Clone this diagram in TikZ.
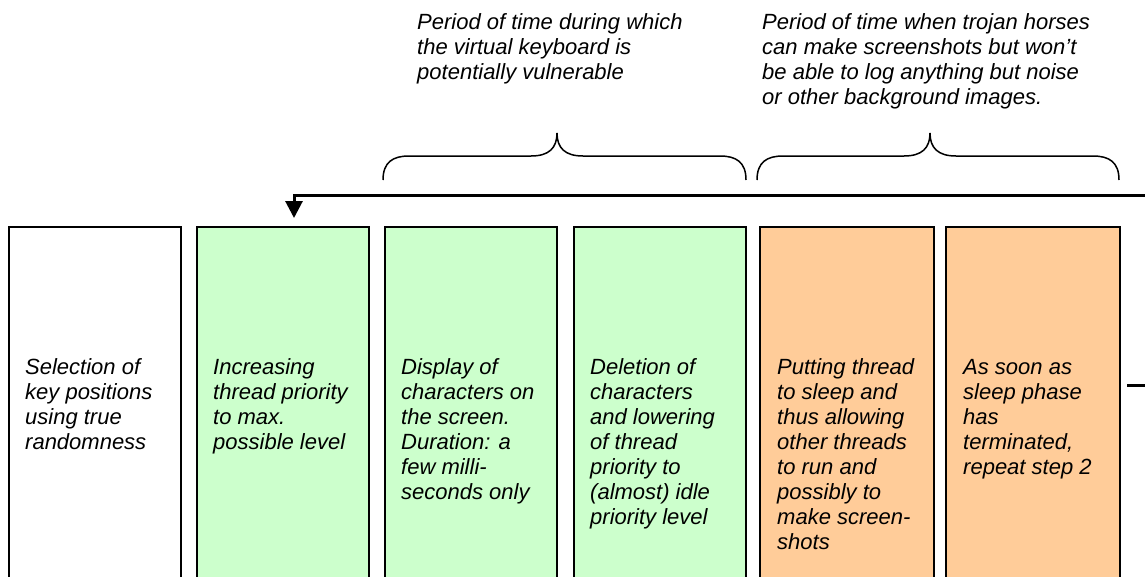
\documentclass[tikz,border=0pt]{standalone}
\usepackage{fontspec}
\setmainfont{Liberation Sans}
\usetikzlibrary{arrows.meta}
\definecolor{lgreen}{HTML}{CCFFCC}
\definecolor{lorange}{HTML}{FFCC99}
\tikzset{
  stepbox/.style={draw=black, line width=1.5pt, minimum width=172pt, minimum height=400pt, anchor=north west, inner sep=0pt},
  boxtext/.style={anchor=north west, inner sep=0pt, align=left, font=\itshape\fontsize{22}{25}\selectfont},
  bracestyle/.style={line width=1.5pt},
  flow/.style={line width=3pt}
}
\newcommand\mybrace[3]{% left x, right x, tip x
  \draw[bracestyle] (#1,180) .. controls (#1,162) and (#1+10,156) .. (#1+26,156)
    -- (#3-26,156) .. controls (#3-8,156) and (#3,148) .. (#3,133)
    .. controls (#3,148) and (#3+8,156) .. (#3+26,156)
    -- (#2-26,156) .. controls (#2-10,156) and (#2,162) .. (#2,180);}
\newcommand\fl{\rule{0pt}{18pt}}
\begin{document}
\begin{tikzpicture}[x=1pt,y=-1pt]
\useasboundingbox (0,0) rectangle (1145,576);
\clip (0,0) rectangle (1145,576);
\fill[white] (0,0) rectangle (1145,576);
% boxes
\node[stepbox, fill=white]   (b1) at (8,226) {};
\node[stepbox, fill=lgreen]  (b2) at (196,226) {};
\node[stepbox, fill=lgreen]  (b3) at (384,226) {};
\node[stepbox, fill=lgreen]  (b4) at (573,226) {};
\node[stepbox, fill=lorange, minimum width=174pt] (b5) at (759,226) {};
\node[stepbox, fill=lorange, minimum width=174pt] (b6) at (945,226) {};
% box texts
\node[boxtext] (t1) at ([shift={(17,130)}]b1.north west) {\fl Selection of\\key positions\\using true\\randomness};
\node[boxtext] (t2) at ([shift={(17,130)}]b2.north west) {\fl Increasing\\thread priority\\to max.\\possible level};
\node[boxtext] (t3) at ([shift={(17,130)}]b3.north west) {\fl Display of\\characters on\\the screen.\\Duration: a\\few milli-\\seconds only};
\node[boxtext] (t4) at ([shift={(17,130)}]b4.north west) {\fl Deletion of\\characters\\and lowering\\of thread\\priority to\\(almost) idle\\priority level};
\node[boxtext] (t5) at ([shift={(18,130)}]b5.north west) {\fl Putting thread\\to sleep and\\thus allowing\\other threads\\to run and\\possibly to\\make screen-\\shots};
\node[boxtext] (t6) at ([shift={(18,130)}]b6.north west) {\fl As soon as\\sleep phase\\has\\terminated,\\repeat step 2};
% top texts
\node[boxtext] (p1) at (417,11) {\fl Period of time during which\\the virtual keyboard is\\potentially vulnerable};
\node[boxtext] (p2) at (762,11) {\fl Period of time when trojan horses\\can make screenshots but won’t\\be able to log anything but noise\\or other background images.};
% braces
\mybrace{383}{746}{557}
\mybrace{757}{1119}{930}
% loop arrow
\coordinate (loopin) at (1148,195);
\coordinate (looptip) at (294,218);
\draw[flow, -{Triangle[length=17pt,width=17pt]}] (loopin) -| (looptip);
\coordinate (outa) at (1127,385);
\coordinate (outb) at (1148,385);
\draw[flow] (outa) -- (outb);
\end{tikzpicture}
\end{document}
